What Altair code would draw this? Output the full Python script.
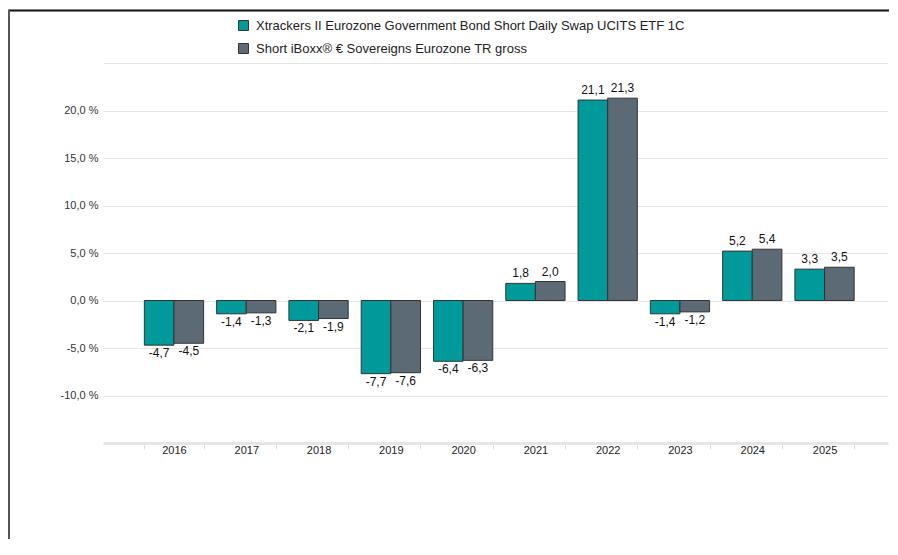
import altair as alt
import pandas as pd

years = ["2016", "2017", "2018", "2019", "2020", "2021", "2022", "2023", "2024", "2025"]
series_names = [
    "Xtrackers II Eurozone Government Bond Short Daily Swap UCITS ETF 1C",
    "Short iBoxx® € Sovereigns Eurozone TR gross",
]
etf_values = [-4.7, -1.4, -2.1, -7.7, -6.4, 1.8, 21.1, -1.4, 5.2, 3.3]
index_values = [-4.5, -1.3, -1.9, -7.6, -6.3, 2.0, 21.3, -1.2, 5.4, 3.5]
colors = ["#009a9a", "#5b6a75"]
y_ticks = [-15, -10, -5, 0, 5, 10, 15, 20, 25]

rows = []
for i, y in enumerate(years):
    rows.append({"year": y, "series": series_names[0], "order": 0, "value": etf_values[i]})
    rows.append({"year": y, "series": series_names[1], "order": 1, "value": index_values[i]})
df = pd.DataFrame(rows)

FONT = "Liberation Sans"

x_enc = alt.X(
    "year:N",
    sort=years,
    scale=alt.Scale(paddingInner=0.18, paddingOuter=0.52, align=0.55),
    axis=alt.Axis(
        title=None, labelAngle=0, tickBand="extent", tickSize=6, tickColor="#dddddd",
        tickWidth=1, domainColor="#e6e6e6", domainWidth=3, labelPadding=-5,
        labelFontSize=11, labelColor="#222222", labelFont=FONT, grid=False,
    ),
)
xoff = alt.XOffset("series:N", sort=series_names, scale=alt.Scale(domain=series_names, paddingInner=0, paddingOuter=0))
y_enc = alt.Y(
    "value:Q",
    scale=alt.Scale(domain=[-15, 25], nice=False, zero=False),
    axis=alt.Axis(
        title=None, values=y_ticks, ticks=False, domain=False, grid=True,
        gridColor="#e6e6e6", gridWidth=1, labelPadding=5, labelFontSize=11,
        labelColor="#333333", labelFont=FONT,
        labelExpr="(datum.value == 25 || datum.value == -15) ? '' : ((datum.value < 0 ? '-' : '') + replace(format(abs(datum.value), '.1f'), '.', ',') + ' %')",
    ),
)

base = alt.Chart(df).transform_calculate(
    label="(datum.value < 0 ? '-' : '') + replace(format(abs(datum.value), '.1f'), '.', ',')"
)

bars = base.mark_bar(stroke="#333333", strokeWidth=1).encode(
    x=x_enc,
    xOffset=xoff,
    y=y_enc,
    y2=alt.datum(0),
    color=alt.Color(
        "series:N",
        sort=series_names,
        scale=alt.Scale(domain=series_names, range=colors),
        legend=alt.Legend(
            title=None, orient="none", legendX=134, legendY=-44, direction="vertical",
            symbolType="square", symbolSize=100, symbolStrokeColor="#333333",
            symbolStrokeWidth=1, symbolOpacity=1, labelFontSize=13, labelColor="#222222",
            labelFont=FONT, labelOffset=6, rowPadding=8, padding=0, labelLimit=600,
        ),
    ),
)

text_pos = base.transform_filter("datum.value >= 0").mark_text(
    baseline="bottom", dy=-3, fontSize=12, color="#111111", font=FONT
).encode(x=alt.X("year:N", sort=years), xOffset=alt.XOffset("series:N", sort=series_names), y="value:Q", text="label:N")

text_neg = base.transform_filter("datum.value < 0").mark_text(
    baseline="top", dy=3, fontSize=12, color="#111111", font=FONT
).encode(x=alt.X("year:N", sort=years), xOffset=alt.XOffset("series:N", sort=series_names), y="value:Q", text="label:N")

frame_df = pd.DataFrame({"k": [0]})
frame_top = alt.Chart(frame_df).mark_rule(color="#111111", strokeWidth=2).encode(
    x=alt.value(-94), x2=alt.value(786), y=alt.value(-52.5)
)
frame_left = alt.Chart(frame_df).mark_rule(color="#555555", strokeWidth=2).encode(
    x=alt.value(-94), y=alt.value(-53.5), y2=alt.value(476)
)

chart = alt.layer(bars, text_pos, text_neg, frame_top, frame_left).properties(
    width=785, height=380, padding=0
).configure(font=FONT).configure_view(strokeWidth=0, stroke="transparent")

chart.save("out.html", embed_options={"renderer": "svg", "actions": False})
